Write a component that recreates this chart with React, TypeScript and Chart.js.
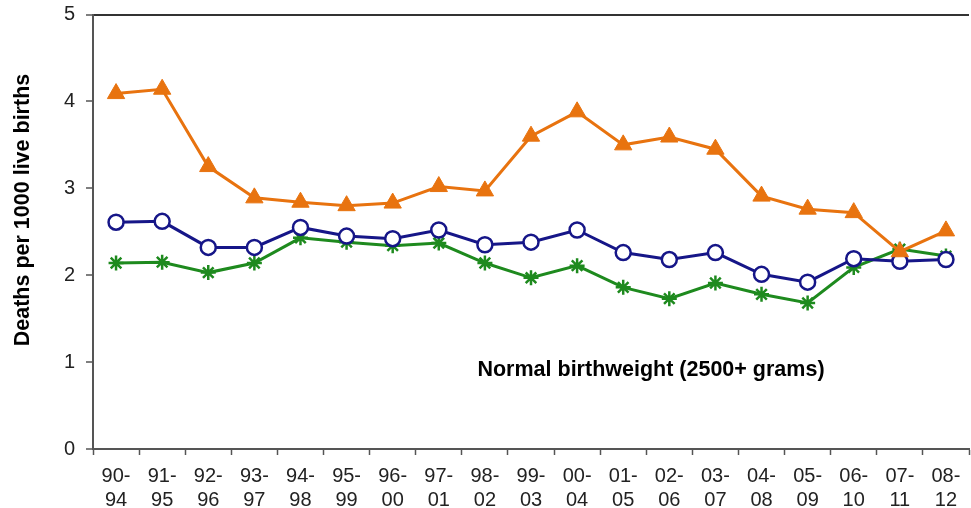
import React, { useEffect, useRef } from "react";
import { Chart, registerables } from "chart.js";

Chart.register(...registerables);

const categories: string[][] = [
  ["90-", "94"], ["91-", "95"], ["92-", "96"], ["93-", "97"], ["94-", "98"],
  ["95-", "99"], ["96-", "00"], ["97-", "01"], ["98-", "02"], ["99-", "03"],
  ["00-", "04"], ["01-", "05"], ["02-", "06"], ["03-", "07"], ["04-", "08"],
  ["05-", "09"], ["06-", "10"], ["07-", "11"], ["08-", "12"],
];

const orangeSeries = [4.09, 4.14, 3.25, 2.89, 2.84, 2.80, 2.83, 3.02, 2.97, 3.60, 3.88, 3.50, 3.59, 3.45, 2.91, 2.76, 2.72, 2.27, 2.51];
const blueSeries = [2.61, 2.62, 2.32, 2.32, 2.55, 2.45, 2.42, 2.52, 2.35, 2.38, 2.52, 2.26, 2.18, 2.26, 2.01, 1.92, 2.19, 2.16, 2.18];
const greenSeries = [2.14, 2.15, 2.03, 2.14, 2.43, 2.38, 2.34, 2.37, 2.14, 1.97, 2.11, 1.86, 1.73, 1.91, 1.78, 1.68, 2.09, 2.30, 2.22];

const yTitle = "Deaths per 1000 live births";
const annotationText = "Normal birthweight (2500+ grams)";

const FONT = "'Liberation Sans', Arial, sans-serif";

export default function App() {
  const ref = useRef<HTMLCanvasElement | null>(null);

  useEffect(() => {
    if (!ref.current) return;
    const textPlugin = {
      id: "textPlugin",
      afterDraw(chart: any) {
        const ctx = chart.ctx;
        ctx.save();
        ctx.fillStyle = "#000";
        ctx.font = `bold 21.5px ${FONT}`;
        ctx.textAlign = "center";
        ctx.textBaseline = "middle";
        ctx.translate(23, 210);
        ctx.rotate(-Math.PI / 2);
        ctx.fillText(yTitle, 0, 0);
        ctx.restore();

        ctx.save();
        ctx.fillStyle = "#000";
        ctx.font = `bold 21.5px ${FONT}`;
        ctx.textAlign = "center";
        ctx.textBaseline = "middle";
        ctx.fillText(annotationText, 651, 370);
        ctx.restore();
      },
    };

    const chart = new Chart(ref.current, {
      type: "line",
      data: {
        labels: categories,
        datasets: [
          {
            data: orangeSeries,
            borderColor: "#E8730F",
            backgroundColor: "#E8730F",
            borderWidth: 3,
            pointStyle: "triangle",
            pointRadius: 10,
            pointBorderWidth: 1,
            tension: 0,
            order: 0,
          },
          {
            data: blueSeries,
            borderColor: "#161688",
            backgroundColor: "#ffffff",
            borderWidth: 3,
            pointStyle: "circle",
            pointRadius: 7.5,
            pointBorderWidth: 2.5,
            tension: 0,
            order: 1,
          },
          {
            data: greenSeries,
            borderColor: "#1E8A1E",
            backgroundColor: "#1E8A1E",
            borderWidth: 3,
            pointStyle: "star",
            pointRadius: 7.5,
            pointBorderWidth: 2.5,
            tension: 0,
            order: 2,
          },
        ],
      },
      options: {
        responsive: false,
        animation: false,
        layout: { padding: { top: 14.5, right: 6, left: 0, bottom: 0 } },
        plugins: {
          legend: { display: false },
          tooltip: { enabled: false },
        },
        scales: {
          x: {
            offset: true,
            afterFit: (scale: any) => {
              scale.height = 59;
              scale.paddingLeft = 0;
              scale.paddingRight = 0;
            },
            grid: {
              offset: true,
              drawOnChartArea: false,
              tickLength: 6,
              tickColor: "#555",
              tickWidth: 1.5,
            },
            border: { display: true, color: "#555", width: 2 },
            ticks: {
              autoSkip: false,
              maxRotation: 0,
              minRotation: 0,
              padding: 9,
              color: "#222",
              font: { family: FONT, size: 20, lineHeight: 1.2 },
            },
          },
          y: {
            min: 0,
            max: 5,
            afterFit: (scale: any) => {
              scale.width = 93;
              scale.paddingTop = 0;
              scale.paddingBottom = 0;
            },
            grid: {
              drawOnChartArea: true,
              color: (c: any) => (c.tick && c.tick.value === 5 ? "#333" : "rgba(0,0,0,0)"),
              lineWidth: 2,
              tickLength: 7,
              tickColor: "#555",
              tickWidth: 1.5,
            },
            border: { display: true, color: "#555", width: 2 },
            ticks: {
              stepSize: 1,
              padding: 11,
              color: "#222",
              font: { family: FONT, size: 20 },
            },
          },
        },
      },
      plugins: [textPlugin],
    });
    return () => chart.destroy();
  }, []);

  return (
    <div style={{ position: "absolute", left: 0, top: 0, width: 971, height: 508, overflow: "hidden", background: "#fff" }}>
      <canvas ref={ref} width={980} height={508} style={{ display: "block" }} />
    </div>
  );
}
